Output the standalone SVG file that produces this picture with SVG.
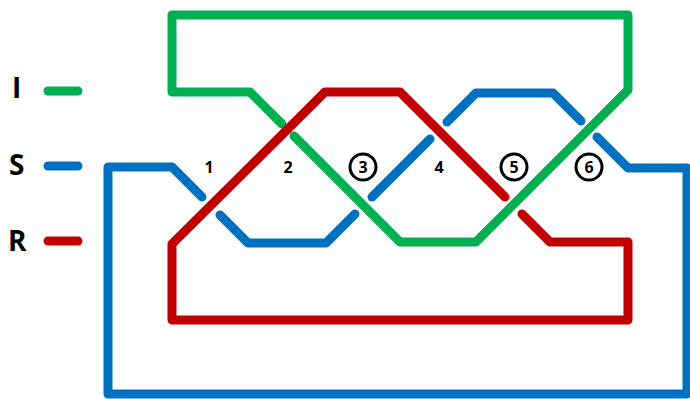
<svg xmlns="http://www.w3.org/2000/svg" width="690" height="399" viewBox="0 0 690 399">
<style>
.s{fill:none;stroke-width:9;stroke-linecap:round;stroke-linejoin:round}
.g{stroke:#00B050}.b{stroke:#0070C0}.r{stroke:#C00000}
.leg{font-family:"Open Sans","Liberation Sans",sans-serif;font-weight:bold;font-size:28px;fill:#000}
.num{font-family:"Open Sans","Liberation Sans",sans-serif;font-weight:bold;font-size:16px;fill:#000;text-anchor:middle}
.c{fill:none;stroke:#000;stroke-width:3}
</style>
<rect width="690" height="399" fill="#fff"/>
<g id="legend">
<text class="leg" x="12" y="98">I</text>
<text class="leg" x="9" y="175">S</text>
<text class="leg" x="8" y="251">R</text>
<line class="s g" x1="48" y1="91" x2="78" y2="91"/>
<line class="s b" x1="48" y1="166" x2="78" y2="166"/>
<line class="s r" x1="48" y1="241" x2="78" y2="241"/>
</g>
<g id="connectors">
<g id="green">
<polyline class="s g" points="282,124 250,92 172,92 172,15 628,15 628,90 476,242 400,242 294,136"/>
</g>
<g id="red">
<polyline class="s r" points="522,214 550,242 628,242 628,320 172,320 172,244 325,92 400,92 505,197"/>
</g>
<g id="blue">
<polyline class="s b" points="202,197 172,167 108,167 108,394 687,394 687,168 628,168 597,137"/>
<polyline class="s b" points="220,215 248,243 326,243 355,214"/>
<polyline class="s b" points="372,197 430,139"/>
<polyline class="s b" points="447,122 476,93 553,93 581,121"/>
</g>
</g>
<g id="labels">
<text class="num" x="209" y="173">1</text>
<text class="num" x="288" y="173">2</text>
<circle class="c" cx="363" cy="167" r="13"/>
<text class="num" x="363" y="173">3</text>
<text class="num" x="439" y="173">4</text>
<circle class="c" cx="514" cy="167" r="13"/>
<text class="num" x="514" y="173">5</text>
<circle class="c" cx="589" cy="167" r="13"/>
<text class="num" x="589" y="173">6</text>
</g>
</svg>
